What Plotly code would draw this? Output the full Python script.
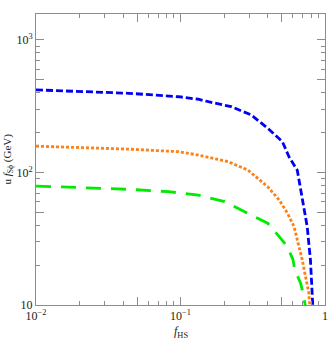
import plotly.graph_objects as go

# values (log-log)
f_blue = [0.01, 0.044, 0.097, 0.133, 0.156, 0.224, 0.308, 0.401, 0.507, 0.564, 0.643, 0.696, 0.753, 0.793, 0.815, 0.824]
u_blue = [420, 396, 373, 357, 342, 314, 272, 216, 171, 131, 104, 65.6, 39, 21.9, 12.3, 9.7]

f_orange = [0.01, 0.044, 0.097, 0.133, 0.213, 0.292, 0.401, 0.482, 0.55, 0.611, 0.643, 0.696, 0.733, 0.773, 0.785]
u_orange = [158, 150, 143.5, 135.4, 120.7, 104.5, 78.2, 62, 49.2, 39, 31, 21.9, 16.4, 12.3, 9.7]

f_green = [0.01, 0.044, 0.0828, 0.133, 0.202, 0.292, 0.401, 0.482, 0.55, 0.601, 0.616, 0.678, 0.706, 0.733]
u_green = [79, 74.6, 71.6, 67.6, 60.2, 49.2, 41.4, 32.8, 27.5, 21.9, 18.6, 14.6, 12.2, 9.7]

x_tickvals = [0.01, 0.05, 0.1, 0.5, 1]
x_ticktext = ["10<sup>\u22122</sup>", "", "10<sup>\u22121</sup>", "", "1"]
y_tickvals = [10, 50, 100, 500, 1000]
y_ticktext = ["10", "", "10<sup>2</sup>", "", "10<sup>3</sup>"]

x_minor = [0.02, 0.03, 0.04, 0.06, 0.07, 0.08, 0.09, 0.2, 0.3, 0.4, 0.6, 0.7, 0.8, 0.9]
y_minor = [20, 30, 40, 60, 70, 80, 90, 200, 300, 400, 600, 700, 800, 900]

fig = go.Figure()
fig.add_trace(go.Scatter(x=f_blue, y=u_blue, mode="lines",
                         line=dict(color="rgb(0,0,245)", width=2.8, dash="7px,3px")))
fig.add_trace(go.Scatter(x=f_orange, y=u_orange, mode="lines",
                         line=dict(color="rgb(255,128,20)", width=2.8, dash="3px,2px")))
fig.add_trace(go.Scatter(x=f_green, y=u_green, mode="lines",
                         line=dict(color="rgb(0,235,0)", width=2.8, dash="15px,10px")))

axis_common = dict(
  type="log", showgrid=False, zeroline=False, showline=True, mirror="allticks",
  linecolor="#8c8c8c", linewidth=1, ticks="inside", ticklen=8, tickcolor="#8c8c8c",
  tickfont=dict(family="Liberation Serif", size=12, color="#222"),
)

fig.update_layout(
  width=332, height=341,
  margin=dict(l=36, r=4, t=14, b=36),
  paper_bgcolor="white", plot_bgcolor="white",
  showlegend=False,
  xaxis=dict(axis_common, range=[-2, 0], tickmode="array", tickvals=x_tickvals, ticktext=x_ticktext,
             minor=dict(tickmode="array", tickvals=x_minor, ticks="inside", ticklen=4, tickcolor="#8c8c8c")),
  yaxis=dict(axis_common, range=[1, 3.196], tickmode="array", tickvals=y_tickvals, ticktext=y_ticktext,
             minor=dict(tickmode="array", tickvals=y_minor, ticks="inside", ticklen=4, tickcolor="#8c8c8c")),
  annotations=[
    dict(text="<i>f</i><sub>HS</sub>", xref="paper", yref="paper", x=0.5, y=-0.06,
         xanchor="center", yanchor="top", showarrow=False,
         font=dict(family="Liberation Serif", size=12, color="#222")),
    dict(text="u <i>f</i><sub>S\u03d5</sub> (GeV)", xref="paper", yref="paper", x=-0.1, y=0.5,
         xanchor="center", yanchor="middle", textangle=-90, showarrow=False,
         font=dict(family="Liberation Serif", size=11, color="#222")),
  ],
)

# drop the browser's default 8px body margin so the figure sits at the page corner
fig.write_html("out.html", config={"displayModeBar": False},
               post_script="document.body.style.margin='0';")
